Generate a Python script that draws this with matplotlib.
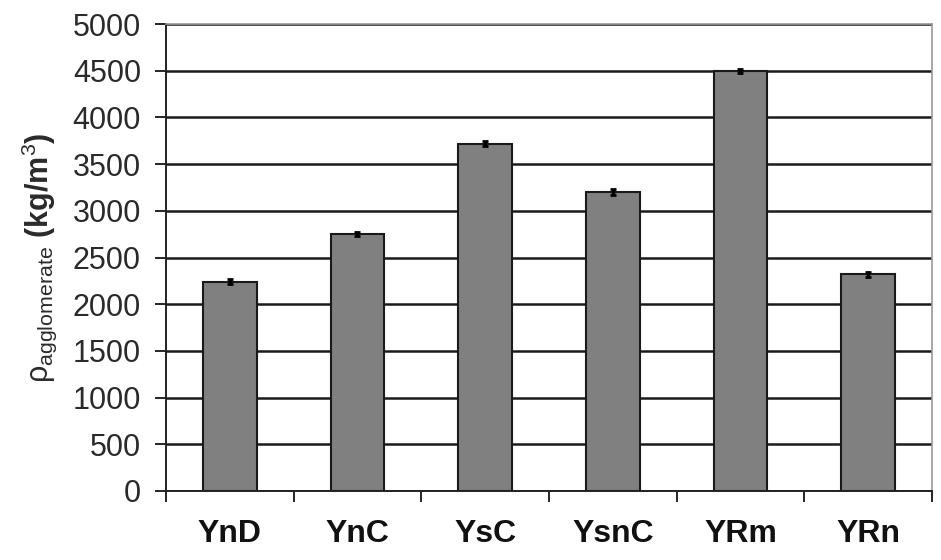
import numpy as np
import matplotlib
matplotlib.use('Agg')
import matplotlib.pyplot as plt

# agglomerate density per sample
samples = ['YnD', 'YnC', 'YsC', 'YsnC', 'YRm', 'YRn']
density = [2240, 2750, 3720, 3200, 4500, 2320]
density_err = [25, 25, 30, 30, 20, 25]

plt.rcParams['font.family'] = ['Liberation Sans', 'DejaVu Sans']
plt.rcParams['mathtext.fontset'] = 'custom'
plt.rcParams['mathtext.rm'] = 'Liberation Sans'
plt.rcParams['mathtext.it'] = 'Liberation Sans'

fig = plt.figure(figsize=(9.41, 5.6), dpi=100)
ax = fig.add_axes([166 / 941, 1 - 491 / 560, (932 - 166) / 941, (491 - 24) / 560])

x = np.arange(len(samples))
ax.set_axisbelow(True)
ax.yaxis.grid(True, color='#1a1a1a', linewidth=1.8)
ax.bar(x, density, width=0.42, color='#808080', edgecolor='#1a1a1a', linewidth=1.5,
       yerr=density_err, error_kw=dict(ecolor='black', elinewidth=2.5, capsize=2, capthick=2))

ax.set_xlim(-0.5, len(samples) - 0.5)
ax.set_ylim(0, 5000)
ax.set_yticks(np.arange(0, 5001, 500))
ax.set_xticks(x)
ax.set_xticklabels(samples, fontsize=23, fontweight='bold', color='#111111')
ax.set_xticks(np.arange(-0.5, len(samples), 1.0), minor=True)
ax.tick_params(axis='x', which='major', length=0, pad=20)
ax.tick_params(axis='x', which='minor', length=8, width=1.2, direction='out')
ax.tick_params(axis='y', length=8, width=1.2, labelsize=22, pad=10, labelcolor='#2a2a2a')

for side in ['left', 'bottom']:
    ax.spines[side].set_color('#222222')
    ax.spines[side].set_linewidth(1.4)
for side in ['top', 'right']:
    ax.spines[side].set_color('#999999')
    ax.spines[side].set_linewidth(1.2)

ax.set_ylabel(r'$\rho_{\mathrm{agglomerate}}$ (kg/m$^3$)', fontsize=22, fontweight='bold',
              color='#2a2a2a', labelpad=10)

fig.savefig('out.png', dpi=100)
